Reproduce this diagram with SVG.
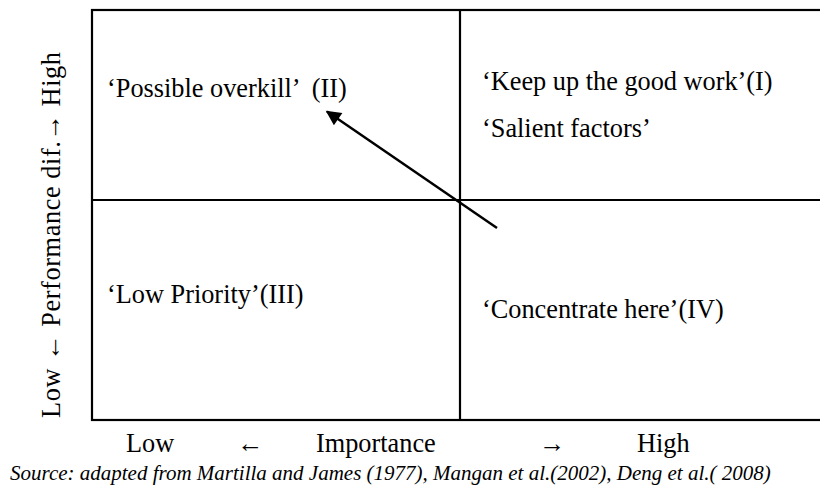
<svg xmlns="http://www.w3.org/2000/svg" width="820" height="491" viewBox="0 0 820 491">
<style>
.t{font-family:'Liberation Serif','Times New Roman',serif;font-size:26.3px;fill:#000}
.s{font-family:'Liberation Serif','Times New Roman',serif;font-size:21px;font-style:italic;fill:#000}
.ln{stroke:#000;stroke-width:2.2;fill:none}
</style>
<defs>
<marker id="ah" viewBox="0 0 10 10" refX="9" refY="5" markerWidth="8" markerHeight="6" markerUnits="strokeWidth" orient="auto">
<path d="M0,0 L10,5 L0,10 z" fill="#000"/>
</marker>
</defs>
<rect width="820" height="491" fill="#fff"/>
<g id="grid">
<rect class="ln" x="92" y="10" width="740" height="410"/>
<line class="ln" x1="460" y1="10" x2="460" y2="420"/>
<line class="ln" x1="92" y1="200" x2="820" y2="200"/>
</g>
<g id="q2"><text class="t" x="107" y="97" xml:space="preserve">‘Possible overkill’  (II)</text></g>
<g id="q1"><text class="t" x="482" y="90">‘Keep up the good work’(I)</text><text class="t" x="482" y="137">‘Salient factors’</text></g>
<g id="q3"><text class="t" x="107" y="303">‘Low Priority’(III)</text></g>
<g id="q4"><text class="t" x="482" y="318">‘Concentrate here’(IV)</text></g>
<g id="connectors">
<line x1="497" y1="228" x2="327" y2="111.5" stroke="#000" stroke-width="2.5" marker-end="url(#ah)"/>
</g>
<g id="xaxis">
<text class="t" x="126" y="452">Low</text>
<text class="t" x="237" y="452">←</text>
<text class="t" x="316" y="452">Importance</text>
<text class="t" x="539" y="452">→</text>
<text class="t" x="637" y="452">High</text>
</g>
<g id="yaxis">
<text class="t" transform="translate(60,235) rotate(-90)" x="-183" textLength="366" lengthAdjust="spacing">Low ← Performance dif.→ High</text>
</g>
<g id="source"><text class="s" x="10" y="480">Source: adapted from Martilla and James (1977), Mangan et al.(2002), Deng et al.( 2008)</text></g>
</svg>
